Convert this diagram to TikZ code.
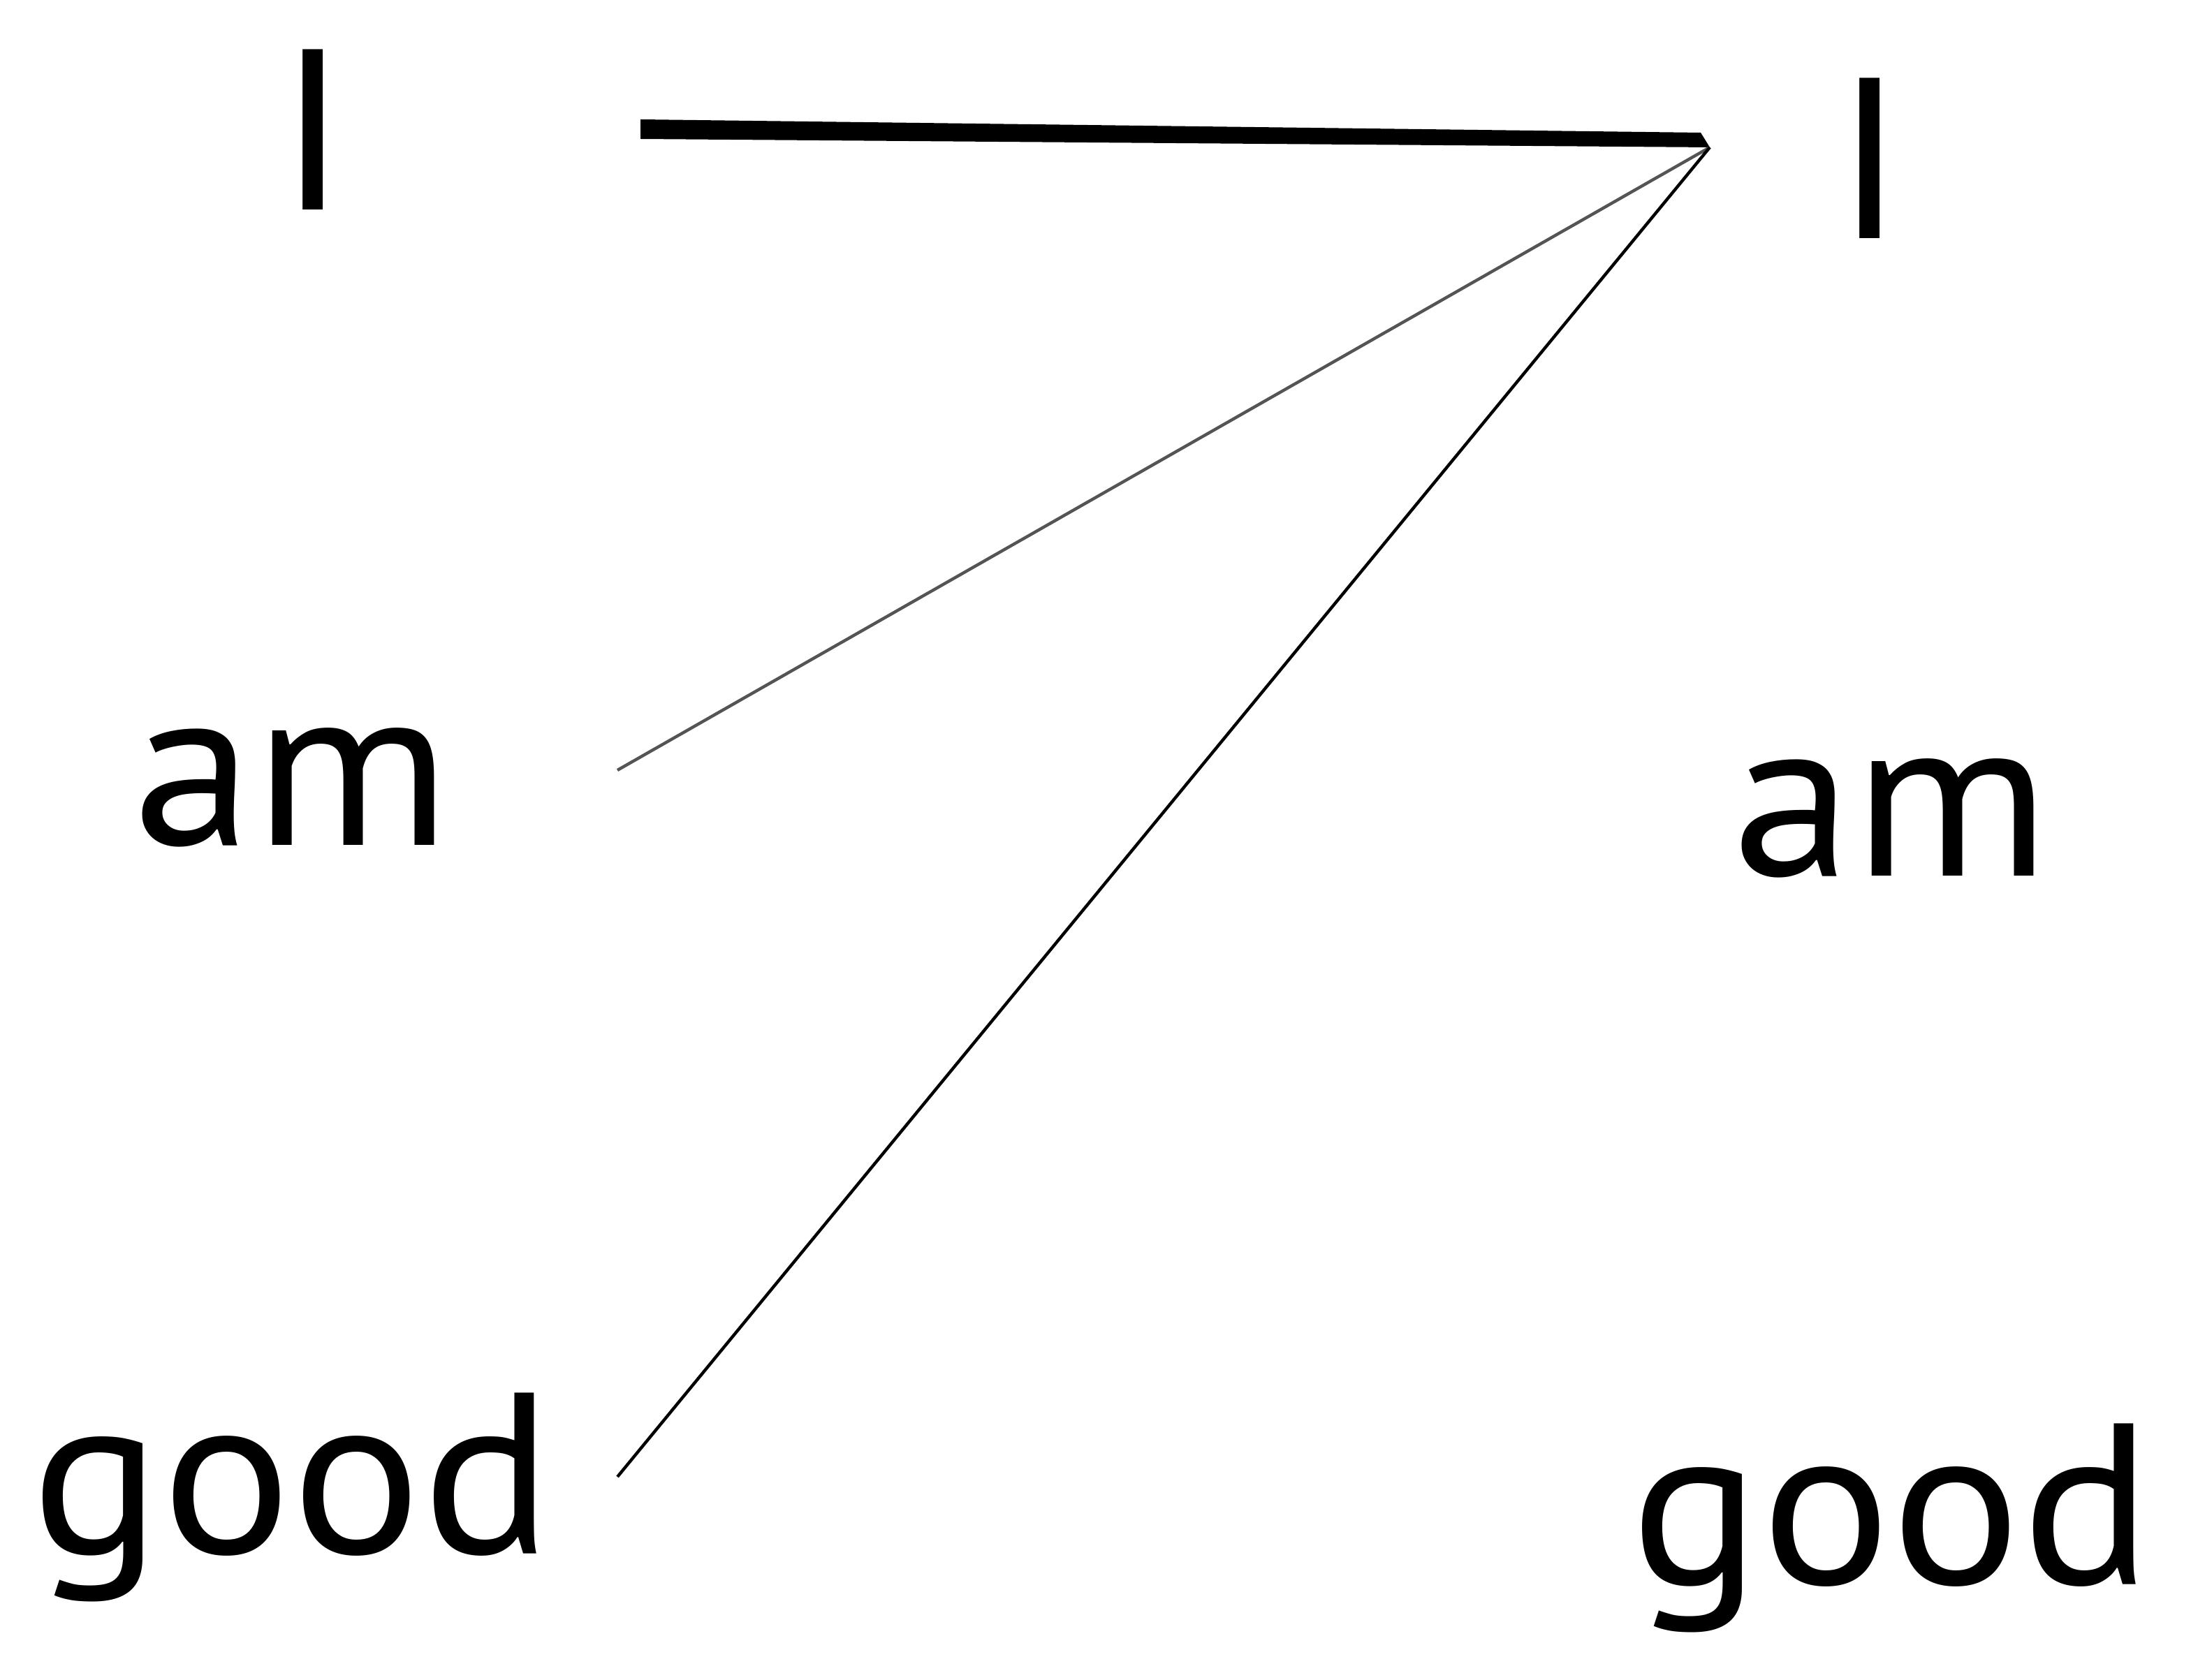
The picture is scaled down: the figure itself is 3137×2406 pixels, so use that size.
\documentclass[tikz,border=0pt]{standalone}
\usepackage{fontspec}
\setmainfont[FakeStretch=1.06]{PT Sans}
\begin{document}
\begin{tikzpicture}[x=0.25pt,y=-0.25pt,
  word/.style={inner sep=0pt,anchor=base,font=\fontsize{82}{90}\selectfont},
  thin/.style={line width=1.1pt,line cap=butt}]
\useasboundingbox (0,0) rectangle (3137,2406);
\node[word] (I1) at (448,301) {I};
\node[word] (I2) at (2677,342) {I};
\node[word] (am1) at (418,1210) {am};
\node[word] (am2) at (2708,1254) {am};
\node[word] (good1) at (418,2224) {good};
\node[word] (good2) at (2708,2268) {good};
\coordinate (tip) at (2448,211);
\coordinate (a) at (884,1103);
\coordinate (g) at (884,2115);
\fill (917,171) -- (2435,190) -- (tip) -- (917,199) -- cycle;
\draw[thin,color=black!67] (tip) -- (a);
\draw[thin,color=black] (tip) -- (g);
\end{tikzpicture}
\end{document}
